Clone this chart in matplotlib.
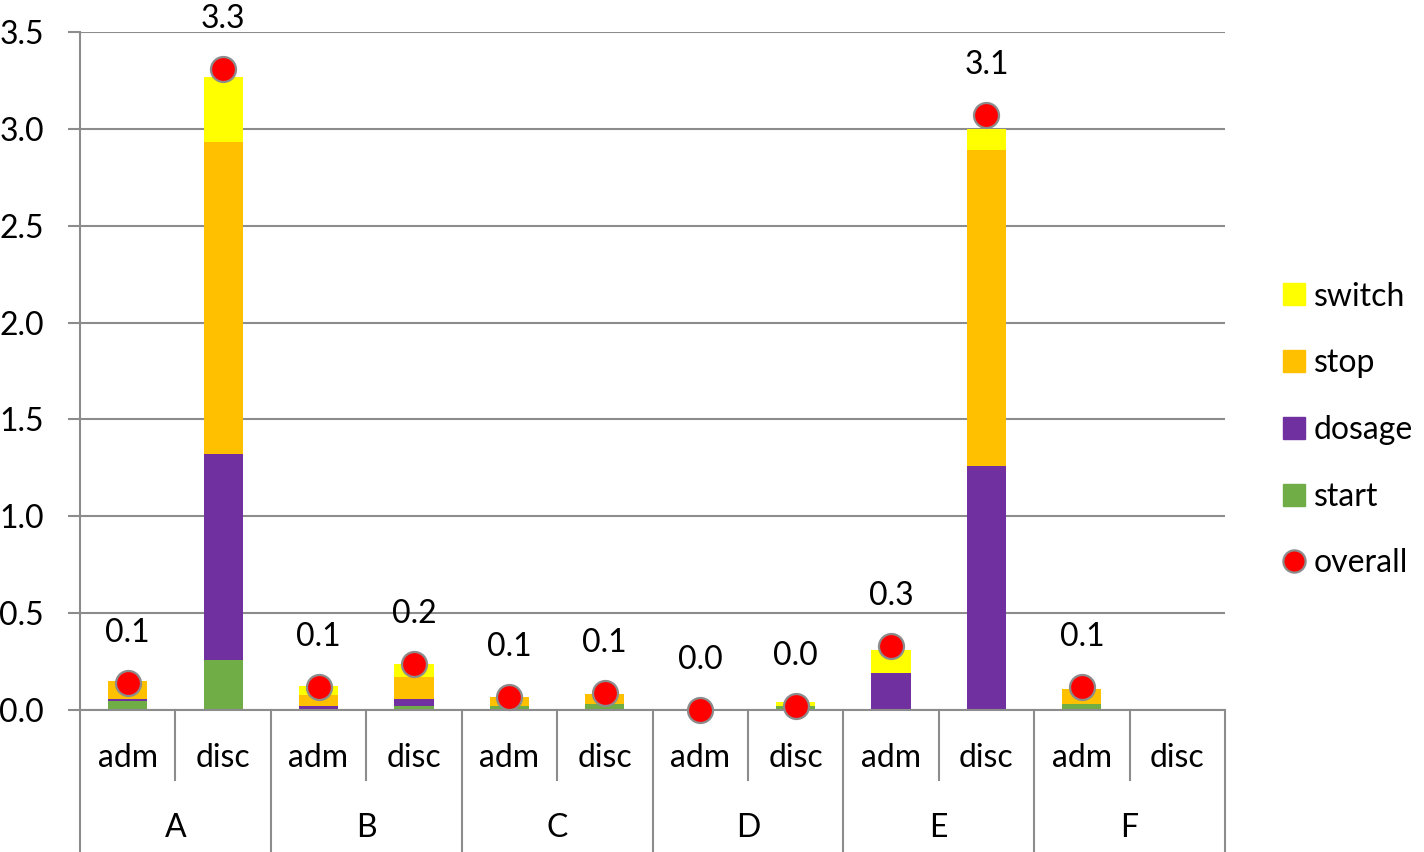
import matplotlib.pyplot as plt
import numpy as np
from matplotlib.lines import Line2D
from matplotlib.patches import Patch

groups = ["A", "B", "C", "D", "E", "F"]
subs = ["adm", "disc"]

# values per bar, order: A adm, A disc, B adm, B disc, ... F adm, F disc
start = [0.045, 0.26, 0.0, 0.02, 0.02, 0.03, 0.0, 0.022, 0.0, 0.0, 0.03, 0.0]
dosage = [0.01, 1.06, 0.02, 0.037, 0.0, 0.0, 0.0, 0.0, 0.19, 1.26, 0.0, 0.0]
stop = [0.095, 1.61, 0.058, 0.113, 0.047, 0.053, 0.0, 0.0, 0.0, 1.63, 0.08, 0.0]
switch = [0.0, 0.34, 0.046, 0.07, 0.0, 0.0, 0.0, 0.018, 0.12, 0.11, 0.0, 0.0]
overall = [0.14, 3.31, 0.12, 0.24, 0.066, 0.09, 0.0, 0.02, 0.33, 3.07, 0.12, np.nan]

colors = {"start": "#70AD47", "dosage": "#7030A0", "stop": "#FFC000", "switch": "#FFFF00"}
GRID = "#8c8c8c"
FS = 23

plt.rcParams["font.family"] = ["Lato", "DejaVu Sans"]
fig = plt.figure(figsize=(14.24, 8.52), dpi=100)
ax = fig.add_axes([80 / 1424, 142 / 852, 1145 / 1424, 678 / 852])

x = np.arange(len(start)) + 0.5
bottom = np.zeros(len(start))
for name, vals in [("start", start), ("dosage", dosage), ("stop", stop), ("switch", switch)]:
    ax.bar(x, vals, width=0.41, bottom=bottom, color=colors[name], zorder=2)
    bottom += np.array(vals)

ov = np.array(overall, dtype=float)
ax.plot(x, ov, ls="none", marker="o", ms=18, mfc="#FF0000", mec=GRID, mew=1.6,
        zorder=3, clip_on=False)
for xi, v in zip(x, ov):
    if np.isnan(v):
        continue
    ax.annotate(f"{v:.1f}", (xi, v), xytext=(0, 36), textcoords="offset points",
                ha="center", va="center", fontsize=FS)

ax.set_xlim(0, 12)
ax.set_ylim(0, 3.5)
ax.set_yticks(np.arange(0, 3.51, 0.5))
ax.set_yticklabels([f"{t:.1f}" for t in np.arange(0, 3.51, 0.5)])
ax.set_xticks([])
ax.tick_params(axis="y", length=9, color=GRID, width=1.5, labelsize=FS, pad=17)
ax.grid(axis="y", color=GRID, lw=1.5, zorder=0)
ax.set_axisbelow(True)
for s in ["top", "right"]:
    ax.spines[s].set_visible(False)
ax.spines["left"].set_color(GRID)
ax.spines["left"].set_linewidth(1.5)
ax.spines["bottom"].set_color(GRID)
ax.spines["bottom"].set_linewidth(1.5)

# category axis below
trans = ax.get_xaxis_transform()
for i in range(len(groups) + 1):
    ax.plot([2 * i, 2 * i], [0, -0.2094], color=GRID, lw=1.5, transform=trans, clip_on=False)
for i in range(len(groups)):
    ax.plot([2 * i + 1, 2 * i + 1], [0, -0.1032], color=GRID, lw=1.5, transform=trans,
            clip_on=False)
    ax.text(2 * i + 1, -0.174, groups[i], transform=trans, ha="center", va="center",
            fontsize=FS)
    for j, s in enumerate(subs):
        ax.text(2 * i + j + 0.5, -0.0708, s, transform=trans, ha="center", va="center",
                fontsize=FS)

handles = [Patch(color=colors["switch"]), Patch(color=colors["stop"]),
           Patch(color=colors["dosage"]), Patch(color=colors["start"]),
           Line2D([], [], ls="none", marker="o", ms=16, mfc="#FF0000", mec=GRID, mew=1.6)]
fig.legend(handles, ["switch", "stop", "dosage", "start", "overall"],
           loc="center left", bbox_to_anchor=(1270 / 1424, 422 / 852), frameon=False,
           fontsize=FS, labelspacing=1.15, handlelength=0.68, handleheight=0.68,
           handletextpad=0.3, borderaxespad=0)

fig.savefig("out.png", dpi=100)
